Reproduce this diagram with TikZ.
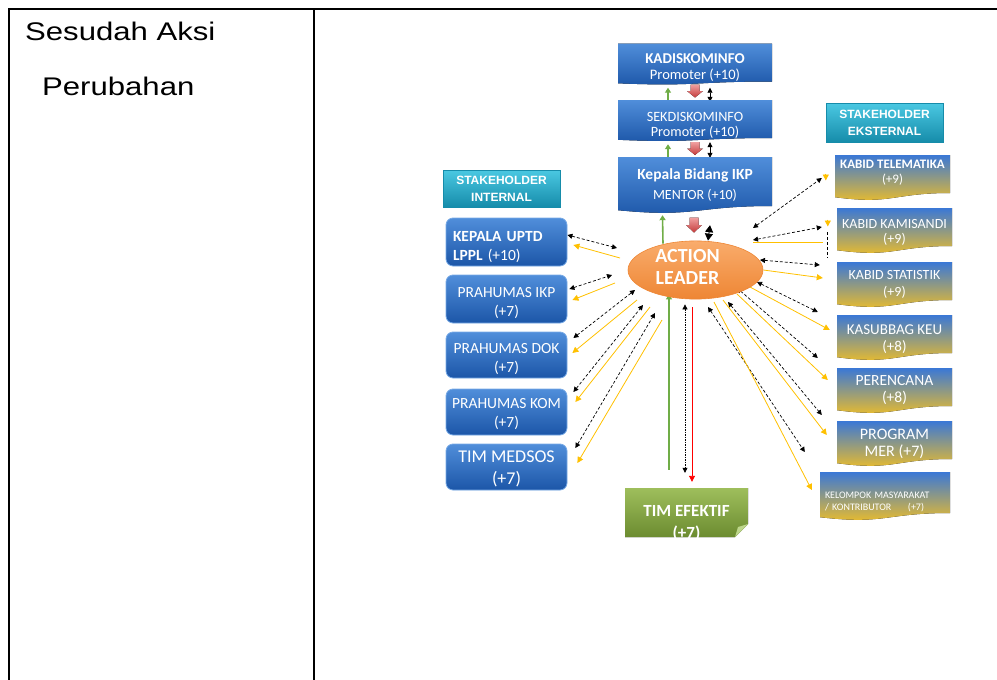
\documentclass[tikz,border=0pt]{standalone}
\usepackage{fontspec}
\setmainfont{Carlito}
\newfontfamily\arialbf{Liberation Sans}
\newfontfamily\widesans{Liberation Sans}[FakeStretch=1.22]
\usetikzlibrary{calc,shapes.geometric,arrows.meta,backgrounds}
\newcommand\pxfont[2]{\fontsize{#1}{#2}\selectfont}
% invisible struts that move a node's text block down (height) or up (depth)
\newcommand\txtdown[1]{\rule{0pt}{#1}}
\newcommand\txtup[1]{\rule[-#1]{0pt}{#1}}

\definecolor{bluetop}{RGB}{80,142,218}
\definecolor{bluebot}{RGB}{28,86,168}
\definecolor{bluerim}{RGB}{120,170,230}
\definecolor{rtop}{RGB}{58,120,214}
\definecolor{rbot}{RGB}{244,192,34}
\definecolor{tealtop}{RGB}{74,200,226}
\definecolor{tealbot}{RGB}{22,140,170}
\definecolor{ortop}{RGB}{249,172,108}
\definecolor{orbot}{RGB}{238,134,52}
\definecolor{tetop}{RGB}{158,190,92}
\definecolor{tebot}{RGB}{108,140,48}
\definecolor{tefold}{RGB}{190,215,140}
\definecolor{grn}{RGB}{112,173,71}
\definecolor{ylw}{RGB}{255,192,0}
\definecolor{redtop}{RGB}{240,160,160}
\definecolor{redbot}{RGB}{196,60,60}

\tikzset{
  % box whose lower edge is a soft wave of depth #3
  wavefill/.style n args={3}{path picture={
    \fill[top color=#1, bottom color=#2]
      (path picture bounding box.north west) -- (path picture bounding box.north east)
      -- ($(path picture bounding box.south east)+(0,-#3)$)
      .. controls ($(path picture bounding box.south)+(0,-#3)$) and ($(path picture bounding box.south)+(0,0.7*#3)$)
      .. ($(path picture bounding box.south west)+(0,-0.4*#3)$) -- cycle;}},
  topbox/.style={minimum width=154pt, inner sep=0pt, text=white, align=center},
  extbox/.style={wavefill={rtop}{rbot}{7}, minimum width=115pt, minimum height=45pt,
    inner sep=0pt, text=white, align=center},
  intbox/.style={rectangle, rounded corners=7pt, top color=bluetop, bottom color=bluebot,
    draw=bluerim, line width=0.8pt, minimum width=121pt, inner sep=0pt,
    text=white, align=center, font=\pxfont{15.5}{19}},
  shbox/.style={rectangle, top color=tealtop, bottom color=tealbot, draw=tealbot,
    line width=0.6pt, minimum width=117pt, inner sep=0pt, text=white, align=center,
    font=\arialbf\bfseries\pxfont{12}{17}},
  leader/.style={ellipse, top color=ortop, bottom color=orbot, draw=orbot,
    line width=0.6pt, minimum width=135pt, minimum height=54pt, inner sep=0pt,
    text=white, align=center, font=\bfseries\pxfont{20}{22}},
  foldbox/.style={path picture={
    \fill[top color=tetop, bottom color=tebot]
      (path picture bounding box.north west) -- (path picture bounding box.north east)
      -- ($(path picture bounding box.south east)+(0,-13)$)
      -- ($(path picture bounding box.south east)+(-13,0)$)
      -- (path picture bounding box.south west) -- cycle;
    \fill[tefold] ($(path picture bounding box.south east)+(0,-13)$)
      -- ($(path picture bounding box.south east)+(-13,0)$)
      -- ($(path picture bounding box.south east)+(-10,-10)$) -- cycle;},
    minimum width=123pt, minimum height=49pt, inner xsep=0pt, inner ysep=-6pt,
    text=white, align=center, font=\bfseries\pxfont{17}{22}},
  % fat block arrow pointing down; #1 is half its length
  redarrow/.style={minimum width=16pt, minimum height={2*#1}, inner sep=0pt,
    path picture={
    \fill[top color=redtop, bottom color=redbot]
      ($(path picture bounding box.center)+(-4.5,-#1)$)
      -- ($(path picture bounding box.center)+(4.5,-#1)$)
      -- ($(path picture bounding box.center)+(4.5,0)$)
      -- ($(path picture bounding box.center)+(8,0)$)
      -- ($(path picture bounding box.center)+(0,#1)$)
      -- ($(path picture bounding box.center)+(-8,0)$)
      -- ($(path picture bounding box.center)+(-4.5,0)$) -- cycle;}},
  tri/.tip={Triangle[length=5pt,width=5pt]},
  bigtri/.tip={Triangle[length=7pt,width=8pt]},
  dashdbl/.style={draw=black, line width=0.7pt, dash pattern=on 3pt off 2pt, tri-tri},
  yarrow/.style={draw=ylw, line width=0.8pt, -{Triangle[length=6pt,width=6pt]}},
  yline/.style={draw=ylw, line width=0.8pt},
  garrow/.style={draw=grn, line width=1.6pt, -{Triangle[length=5pt,width=6pt]}},
  blkdbl/.style={draw=black, line width=0.8pt, tri-tri},
  frame/.style={line width=2pt, line cap=rect},
}

\begin{document}
\begin{tikzpicture}[x=1pt, y=-1pt]
\useasboundingbox (0,0) rectangle (997,680);

% table frame
\draw[frame] (9,9) -- (997,9);
\draw[frame] (9,9) -- (9,680);
\draw[frame] (314,9) -- (314,680);

% left column caption
\node[anchor=base west, inner sep=0pt, font=\widesans\pxfont{25.5}{30}] (cap1) at (25,40) {Sesudah Aksi};
\node[anchor=base west, inner sep=0pt, font=\widesans\pxfont{25.5}{30}] (cap2) at (42,95) {Perubahan};

% chain of mentors
\node[topbox, wavefill={bluetop}{bluebot}{3}, minimum height=41pt, font=\pxfont{14.5}{16}] (kadis) at (695,64)
  {\txtdown{18pt}{\bfseries\pxfont{15}{16}KADISKOMINFO}\\Promoter (+10)};
\node[topbox, wavefill={bluetop}{bluebot}{3}, minimum height=41pt, font=\pxfont{14.2}{15}] (sekdis) at (695,120.5)
  {\txtdown{18pt}SEKDISKOMINFO\\Promoter (+10)};
\node[topbox, wavefill={bluetop}{bluebot}{7}, minimum height=56pt, font=\pxfont{14}{20}] (kep) at (695,185)
  {{\bfseries\pxfont{15.5}{20}Kepala Bidang IKP}\\MENTOR (+10)};

\node[redarrow=6.5] (ra1) at (695,91) {};
\node[redarrow=6.5] (ra2) at (695,148.5) {};
\node[redarrow=7.5] (ra3) at (694,225) {};

% stakeholder headings
\node[shbox, minimum height=37pt] (si) at (501.5,188.5) {STAKEHOLDER\\INTERNAL};
\node[shbox, minimum height=39pt] (se) at (884.5,122.5) {STAKEHOLDER\\EKSTERNAL};

% internal stakeholders
\node[intbox, minimum height=48pt, text width=107pt, align=left] (l1) at (506.5,242)
  {\txtdown{20pt}\bfseries KEPALA UPTD\\\bfseries LPPL \mdseries(+10)};
\node[intbox, minimum height=48pt] (l2) at (506.5,299) {\txtdown{18pt}PRAHUMAS IKP\\(+7)};
\node[intbox, minimum height=46pt] (l3) at (506.5,355) {\txtdown{18pt}PRAHUMAS DOK\\(+7)};
\node[intbox, minimum height=46pt] (l4) at (506.5,412) {\txtdown{14pt}PRAHUMAS KOM\\(+7)};
\node[intbox, minimum height=46pt, font=\pxfont{18}{22}] (l5) at (506.5,467) {\txtdown{16pt}TIM MEDSOS\\(+7)};

% action leader
\node[leader] (al) at (695.5,270) {ACTION\hspace*{16pt}\\LEADER\hspace*{16pt}\txtup{6pt}};

% effective team
\node[foldbox] (te) at (686.5,512.5) {\txtdown{33pt}TIM EFEKTIF\\(+7)};

% external stakeholders
\node[extbox, font=\pxfont{13}{15}] (r1) at (892.5,177.5) {{\bfseries KABID TELEMATIKA}\\(+9)\txtup{11pt}};
\node[extbox, font=\pxfont{14}{15}] (r2) at (894.5,230.5) {\txtdown{13pt}KABID KAMISANDI\\(+9)};
\node[extbox, font=\pxfont{14}{17}] (r3) at (894.5,284.5) {KABID STATISTIK\\(+9)};
\node[extbox, font=\pxfont{15}{17}] (r4) at (894.5,337.5) {\txtdown{14pt}KASUBBAG KEU\\(+8)};
\node[extbox, font=\pxfont{15.5}{17}] (r5) at (894.5,390.5) {PERENCANA\\(+8)};
\node[extbox, font=\pxfont{16}{17}] (r6) at (894.5,443.5) {PROGRAM\\MER (+7)};
\node[extbox, minimum width=130pt, minimum height=48pt, text width=120pt, align=left,
  font=\pxfont{10}{12}] (r7) at (885,496)
  {\txtdown{18.5pt}KELOMPOK MASYARAKAT\\/ KONTRIBUTOR\quad\ \ (+7)};

\begin{scope}[on background layer]
% mentor chain
\draw[garrow] ($(sekdis.north)+(-27,0)$) -- ($(kadis.south)+(-27,3)$);
\draw[garrow] ($(kep.north)+(-27,0)$) -- ($(sekdis.south)+(-27,3)$);
\draw[garrow] ($(al.north)+(-32.5,3)$) -- ($(kep.south)+(-32.5,2)$);
\draw[blkdbl] ($(kadis.south)+(15,3)$) -- ($(sekdis.north)+(15,2)$);
\draw[blkdbl] ($(sekdis.south)+(15,1)$) -- ($(kep.north)+(15,1)$);
\draw[draw=black, line width=0.9pt, bigtri-bigtri] ($(kep.south)+(15,12)$) -- ($(al.north)+(12.5,0)$);

% internal stakeholders
\draw[dashdbl] ($(l1.east)+(0,-7)$) -- ($(al)+(-78.5,-22)$);
\draw[dashdbl] ($(l2.east)+(2,-10)$) -- ($(al)+(-83.5,5)$);
\draw[dashdbl] ($(l3.east)+(6,-17)$) -- ($(al)+(-60.5,20)$);
\draw[dashdbl] ($(l4.east)+(6,-20)$) -- ($(al)+(-52.5,35)$);
\draw[dashdbl] ($(l5.east)+(8,-19)$) -- ($(al)+(-40.5,43)$);
\draw[yarrow] ($(al)+(-75.5,-12)$) -- ($(l1.east)+(6,3)$);
\draw[yarrow] ($(al)+(-80.5,13)$) -- ($(l2.east)+(5,1)$);
\draw[yarrow] ($(al)+(-58.5,30)$) -- ($(l3.east)+(5,-2)$);
\draw[yarrow] ($(al)+(-45.5,37)$) -- ($(l4.east)+(8,-10)$);
\draw[yarrow] ($(al)+(-33.5,50)$) -- ($(l5.east)+(10,-4)$);

% external stakeholders
\draw[dashdbl] ($(al)+(57.5,-42)$) -- ($(r1.west)+(-13,0.5)$);
\draw[dashdbl] ($(al)+(57.5,-30)$) -- ($(r2.west)+(-15,-3.5)$);
\draw[dashdbl] ($(al)+(64.5,-10)$) -- ($(r3.west)+(-17,-19.5)$);
\draw[dashdbl] ($(al)+(61.5,12)$) -- ($(r4.west)+(-19,-25.5)$);
\draw[dashdbl] ($(al)+(41.5,18)$) -- ($(r5.west)+(-19,-32.5)$);
\draw[dashdbl] ($(al)+(32.5,32)$) -- ($(r6.west)+(-15,-28.5)$);
\draw[dashdbl] ($(al)+(12.5,37)$) -- ($(r7.west)+(-15,-44)$);
\draw[yarrow] ($(r1.west)+(-9,-4)$) -- ($(r1.west)+(-9,3)$);
\draw[yline] ($(al)+(57.5,-28)$) -- ($(r2.west)+(-14,11.5)$);
\draw[yarrow] ($(r2.west)+(-9,-11)$) -- ($(r2.west)+(-9,-4)$);
\draw[draw=black, line width=0.7pt, dash pattern=on 3pt off 2pt] ($(r2.west)+(-9,1.5)$) -- ($(r2.west)+(-9,27.5)$);
\draw[yarrow] (al.east) -- ($(r3.west)+(-14,-6.5)$);
\draw[yarrow] ($(al)+(54.5,17)$) -- ($(r4.west)+(-7,-7.5)$);
\draw[yarrow] ($(al)+(41.5,24)$) -- ($(r5.west)+(-9,-10.5)$);
\draw[yarrow] ($(al)+(27.5,30)$) -- ($(r6.west)+(-10,-8.5)$);
\draw[yarrow] ($(al)+(18.5,32)$) -- ($(r7.west)+(-8,-6)$);

% effective team
\draw[garrow] ($(te.north)+(-17.5,-18)$) -- ($(al.south)+(-26.5,-5)$);
\draw[draw=black, line width=0.7pt, dash pattern=on 1.5pt off 1pt, tri-tri]
  ($(al.south)+(-10.5,5)$) -- ($(te.north)+(-1.5,-15)$);
\draw[draw=red, line width=0.9pt, -{Triangle[length=6pt,width=6pt]}]
  ($(al.south)+(-3.5,8)$) -- ($(te.north)+(5.5,-6)$);
\end{scope}
\end{tikzpicture}
\end{document}
